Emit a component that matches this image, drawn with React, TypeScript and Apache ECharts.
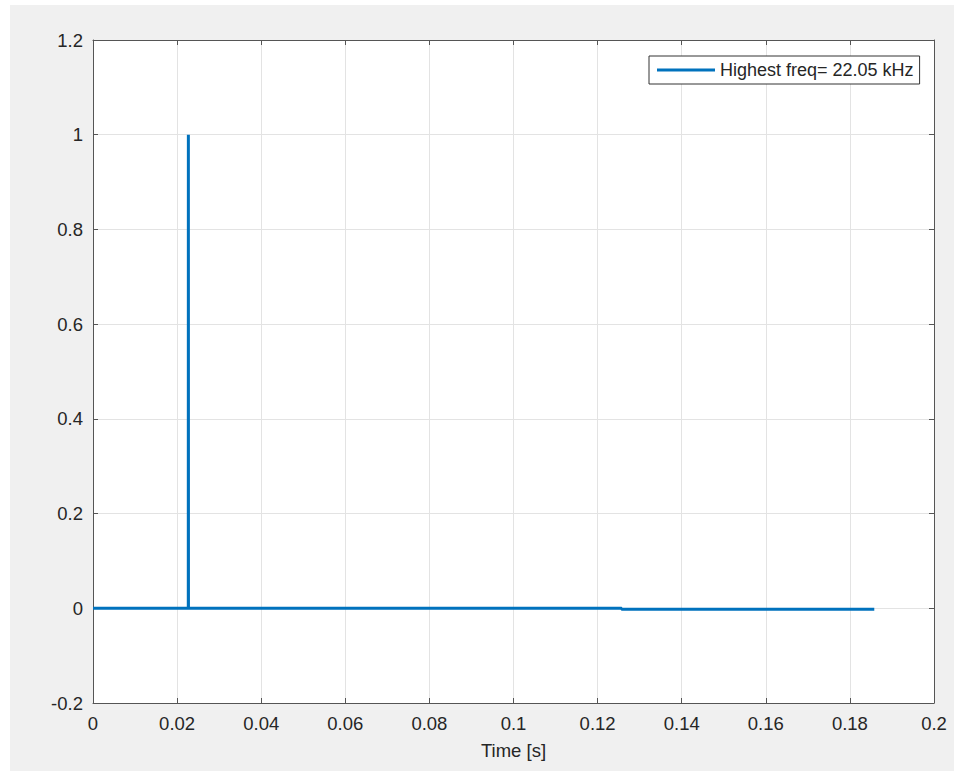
import React, { useEffect, useRef } from "react";
import * as echarts from "echarts";

const seriesName = "Highest freq= 22.05 kHz";
const timeS = [0, 0.02266, 0.02268, 0.0227, 0.1257, 0.1257, 0.1858];
const amplitude = [0, 0, 1, 0, 0, -0.002, -0.002];
const xRange = [0, 0.2, 0.02];
const yRange = [-0.2, 1.2, 0.2];

const FONT = "'Liberation Sans', Arial, Helvetica, sans-serif";
const AXIS = "#555555";
const TXT = "#262626";

export default function App() {
  const ref = useRef<HTMLDivElement>(null);
  useEffect(() => {
    if (!ref.current) return;
    const chart = echarts.init(ref.current, null, { renderer: "svg" });
    const fmt = (v: number) => {
      const r = Math.round(v * 1000) / 1000;
      return String(r);
    };
    const baseX = {
      type: "value" as const,
      min: xRange[0],
      max: xRange[1],
      interval: xRange[2],
    };
    const baseY = {
      type: "value" as const,
      min: yRange[0],
      max: yRange[1],
      interval: yRange[2],
    };
    chart.setOption({
      animation: false,
      backgroundColor: "transparent",
      textStyle: { fontFamily: FONT },
      graphic: [
        {
          type: "rect",
          z: -10,
          silent: true,
          shape: { x: 10, y: 5, width: 944, height: 766 },
          style: { fill: "#f0f0f0" },
        },
      ],
      grid: {
        left: 93,
        top: 40,
        right: 20,
        bottom: 70,
        show: true,
        backgroundColor: "#ffffff",
        borderWidth: 0,
      },
      legend: {
        show: true,
        left: 649,
        top: 56,
        padding: [5, 6, 5, 8],
        backgroundColor: "#ffffff",
        borderColor: "#333333",
        borderWidth: 1,
        borderRadius: 0,
        itemWidth: 58,
        itemHeight: 3,
        icon: "rect",
        textStyle: { fontFamily: FONT, fontSize: 18, color: TXT },
        data: [{ name: seriesName }],
      },
      xAxis: [
        {
          ...baseX,
          position: "bottom",
          name: "Time [s]",
          nameLocation: "middle",
          nameGap: 47,
          nameTextStyle: { fontFamily: FONT, fontSize: 18.5, color: TXT, verticalAlign: "middle" },
          axisLine: { show: true, onZero: false, lineStyle: { color: AXIS, width: 1 } },
          axisTick: { show: true, inside: true, length: 5, lineStyle: { color: AXIS } },
          axisLabel: { fontFamily: FONT, fontSize: 18.5, color: TXT, margin: 11, formatter: fmt },
          splitLine: { show: true, lineStyle: { color: "#e3e3e3", width: 1 } },
        },
        {
          ...baseX,
          position: "top",
          axisLine: { show: true, onZero: false, lineStyle: { color: AXIS, width: 1 } },
          axisTick: { show: true, inside: true, length: 5, lineStyle: { color: AXIS } },
          axisLabel: { show: false },
          splitLine: { show: false },
        },
      ],
      yAxis: [
        {
          ...baseY,
          position: "left",
          axisLine: { show: true, onZero: false, lineStyle: { color: AXIS, width: 1 } },
          axisTick: { show: true, inside: true, length: 5, lineStyle: { color: AXIS } },
          axisLabel: { fontFamily: FONT, fontSize: 18.5, color: TXT, margin: 10, formatter: fmt },
          splitLine: { show: true, lineStyle: { color: "#e3e3e3", width: 1 } },
        },
        {
          ...baseY,
          position: "right",
          axisLine: { show: true, onZero: false, lineStyle: { color: AXIS, width: 1 } },
          axisTick: { show: true, inside: true, length: 5, lineStyle: { color: AXIS } },
          axisLabel: { show: false },
          splitLine: { show: false },
        },
      ],
      series: [
        {
          name: seriesName,
          type: "line",
          xAxisIndex: 0,
          yAxisIndex: 0,
          data: timeS.map((t, i) => [t, amplitude[i]]),
          showSymbol: false,
          symbol: "none",
          color: "#0072BD",
          lineStyle: { color: "#0072BD", width: 3 },
          z: 5,
        },
      ],
    });
    return () => chart.dispose();
  }, []);
  return (
    <div
      ref={ref}
      style={{ position: "absolute", left: 0, top: 0, width: 954, height: 773, background: "#ffffff" }}
    />
  );
}
